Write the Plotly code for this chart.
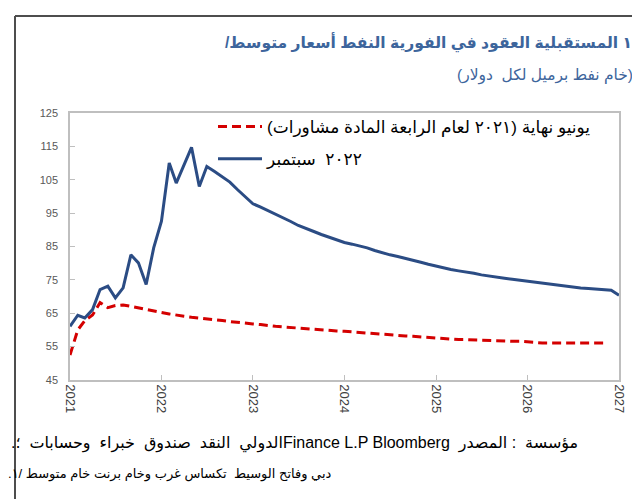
import plotly.graph_objects as go
import pandas as pd

# ---------------- data ----------------
blue_start = "2021-01-01"
blue_values = [
    61.1, 64.4, 63.6, 66.1, 72.1, 73.1, 69.6, 72.6, 82.5, 80.1, 73.6, 84.6,
    92.6, 110.0, 104.0, 109.5, 114.7, 103.0, 109.0, 107.5, 106.0, 104.3, 102.0, 99.8,
    97.8, 96.8, 95.8, 94.8, 93.6, 92.5, 91.3, 90.3, 89.5, 88.6, 87.8, 87.0,
    86.2, 85.7, 85.2, 84.6, 83.8, 83.1, 82.5, 82.0, 81.5, 81.0, 80.3, 79.7,
    79.1, 78.6, 78.1, 77.7, 77.4, 77.0, 76.5, 76.1, 75.8, 75.5, 75.2, 74.9,
    74.6, 74.4, 74.1, 73.8, 73.5, 73.2, 72.9, 72.6, 72.4, 72.2, 72.0, 71.9,
    70.4,
]

red_start = "2021-01-01"
red_values = [
    52.5, 60.0, 62.8, 64.5, 68.2, 66.7, 67.3, 67.5, 67.1, 66.6, 66.1, 65.6,
    65.2, 64.8, 64.4, 64.1, 63.8, 63.6, 63.3, 63.1, 62.8, 62.5, 62.2, 62.0,
    61.8, 61.6, 61.3, 61.1, 60.9, 60.7, 60.5, 60.4, 60.2, 60.0, 59.9, 59.7,
    59.6, 59.4, 59.3, 59.1, 59.0, 58.8, 58.5, 58.3, 58.2, 58.1, 57.9, 57.7,
    57.5, 57.4, 57.2, 57.1, 57.1, 57.0, 56.8, 56.7, 56.6, 56.6, 56.6, 56.6,
    56.4, 56.2, 56.1, 56.1, 56.1, 56.1, 56.1, 56.1, 56.1, 56.1, 56.1,
]

year_ticks = ["2021", "2022", "2023", "2024", "2025", "2026", "2027"]
y_ticks = [45, 55, 65, 75, 85, 95, 105, 115, 125]

# Texts, written in the word order that the reference shows on screen
# (its words run left to right, each word itself in Arabic script).
red_name = "(٢٠٢١ لعام الرابعة المادة مشاورات) يونيو نهاية"
blue_name = "٢٠٢٢ \u00a0سبتمبر"
title_text = "/١ المستقبلية العقود في الفورية النفط أسعار متوسط"
subtitle_text = "(خام نفط برميل لكل \u00a0دولار)"
source_text = (".الدولي \u00a0النقد \u00a0صندوق \u00a0خبراء \u00a0وحسابات \u00a0؛Finance L.P Bloomberg"
               " \u00a0مؤسسة \u00a0: المصدر")
note_text = ".دبي وفاتح الوسيط \u00a0تكساس غرب وخام برنت خام متوسط /١"

blue_x = pd.date_range(blue_start, periods=len(blue_values), freq="MS")
red_x = pd.date_range(red_start, periods=len(red_values), freq="MS")

# ---------------- layout geometry ----------------
W, H = 640, 499
L, R, T, B = 62, 611, 105, 372
PW, PH = R - L, B - T


def px(x):
    return (x - L) / PW


def py(y):
    return (B - y) / PH


FONT = "Liberation Sans, Arial, DejaVu Sans, sans-serif"
BLUE = "#2B4C84"
RED = "#D40000"
TITLE_BLUE = "#3D659C"

fig = go.Figure()
fig.add_trace(go.Scatter(
    x=red_x, y=red_values, mode="lines", name=red_name,
    line=dict(color=RED, width=3, dash="9px,5px"), legendgroup="a",
))
fig.add_trace(go.Scatter(
    x=blue_x, y=blue_values, mode="lines", name=blue_name,
    line=dict(color=BLUE, width=3), legendgroup="b",
))

axis_common = dict(
    showline=True, linecolor="#BFBFBF", linewidth=1.5, mirror=True,
    ticks="inside", ticklen=5, tickcolor="#BFBFBF", tickwidth=1,
    showgrid=False, zeroline=False,
)

fig.update_xaxes(
    type="date", range=["2021-01-01", "2027-01-01"],
    tickvals=[f"{y}-01-01" for y in year_ticks], ticktext=year_ticks,
    tickangle=90, tickfont=dict(family=FONT, size=13, color="#404040"),
    **axis_common,
)
fig.update_yaxes(
    range=[45, 125], tickvals=y_ticks,
    tickfont=dict(family=FONT, size=11, color="#595959"),
    ticklabelstandoff=8,
    **axis_common,
)

annotations = [
    dict(text="<b>" + title_text + "</b>", x=px(626), y=py(34),
         xanchor="right", yanchor="middle",
         font=dict(family=FONT, size=15.6, color=TITLE_BLUE)),
    dict(text=subtitle_text, x=px(627), y=py(67),
         xanchor="right", yanchor="middle",
         font=dict(family=FONT, size=15.5, color=TITLE_BLUE)),
    dict(text=source_text, x=px(1), y=py(435),
         xanchor="left", yanchor="middle",
         font=dict(family=FONT, size=16, color="#000000")),
    dict(text=note_text, x=px(-2), y=py(466),
         xanchor="left", yanchor="middle",
         font=dict(family=FONT, size=13, color="#000000")),
]
for a in annotations:
    a.update(xref="paper", yref="paper", showarrow=False)

shapes = [
    dict(type="line", xref="paper", yref="paper", x0=px(7), x1=px(7),
         y0=py(8), y1=py(H + 5), line=dict(color="#4D4D4D", width=2)),
    dict(type="line", xref="paper", yref="paper", x0=px(7), x1=px(W + 5),
         y0=py(8), y1=py(8), line=dict(color="#4D4D4D", width=2)),
]

fig.update_layout(
    width=W, height=H,
    margin=dict(l=L, r=W - R, t=T, b=H - B),
    paper_bgcolor="white", plot_bgcolor="white",
    annotations=annotations, shapes=shapes,
    showlegend=True,
    legend=dict(
        x=px(205), y=py(101), xanchor="left", yanchor="top",
        bgcolor="rgba(0,0,0,0)", borderwidth=0,
        font=dict(family=FONT, size=17, color="#000000"),
        traceorder="grouped", tracegroupgap=7, itemwidth=44,
    ),
)

fig.write_html("out.html")
